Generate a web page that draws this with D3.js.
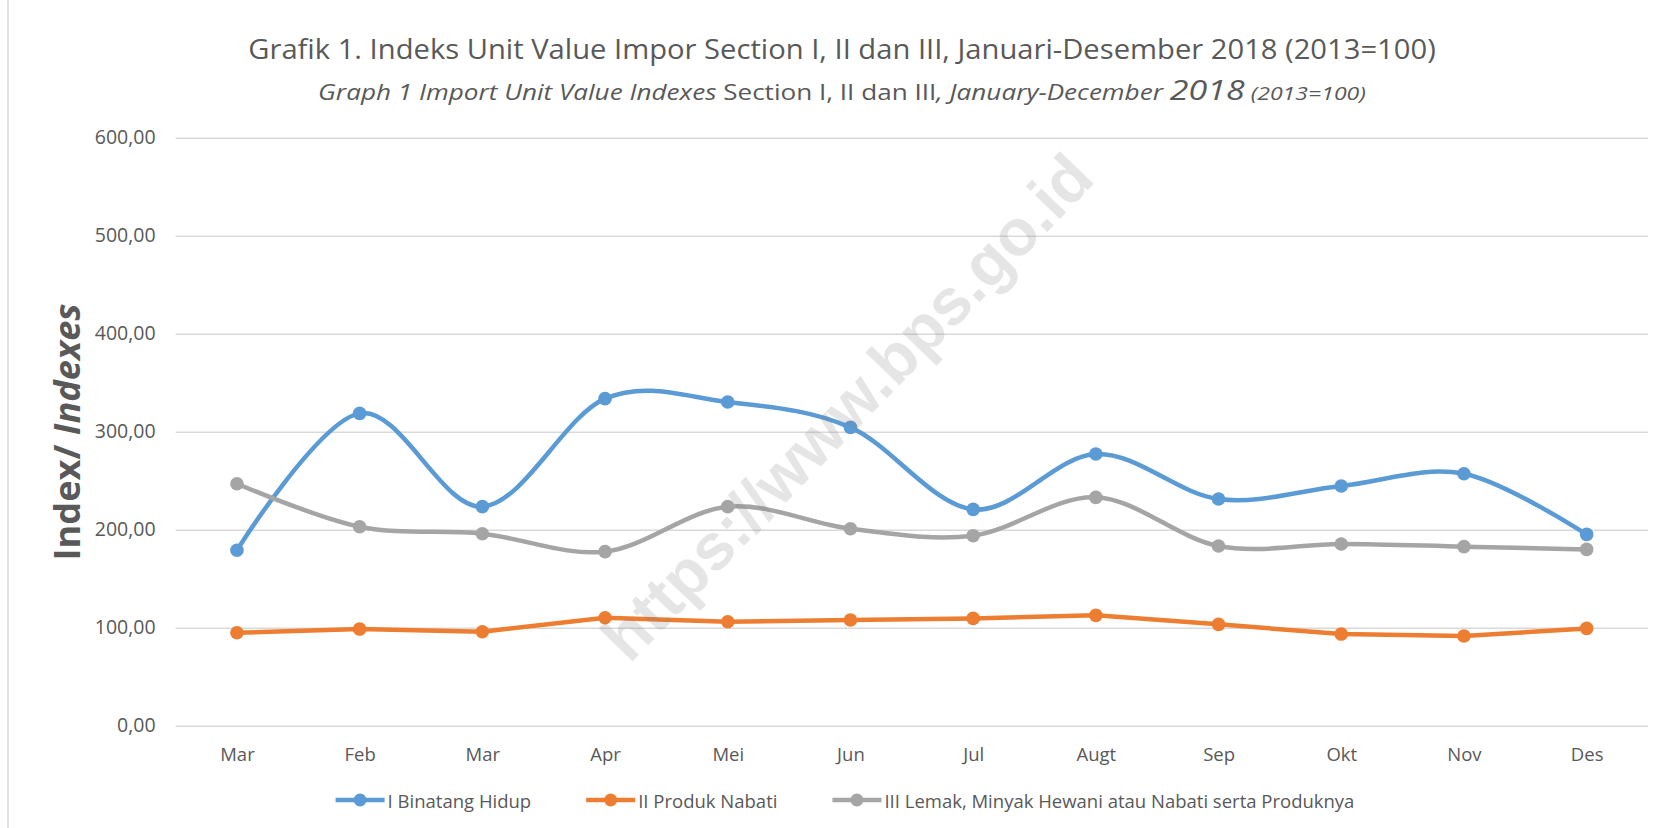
<!DOCTYPE html>
<html lang="id">
<head>
<meta charset="UTF-8">
<title>Grafik 1. Indeks Unit Value Impor Section I, II dan III</title>
<script src="https://d3js.org/d3.v7.min.js"></script>
<style>
  html, body { margin: 0; padding: 0; background: #fff; }
  svg { display: block; font-family: "Open Sans", "Noto Sans", sans-serif; }
</style>
</head>
<body>
<svg id="chart" width="1660" height="828"></svg>
<script>
// data
const months = ["Mar", "Feb", "Mar", "Apr", "Mei", "Jun", "Jul", "Augt", "Sep", "Okt", "Nov", "Des"];
const binatangHidup = [179.0, 318.7, 223.5, 333.7, 330.3, 304.4, 220.7, 277.2, 231.3, 244.6, 257.1, 195.2];
const produkNabati = [94.9, 98.6, 95.9, 110.2, 106.1, 107.8, 109.5, 112.6, 103.4, 93.5, 91.5, 99.3];
const lemakMinyak = [246.9, 203.0, 195.9, 177.6, 223.5, 201.0, 193.9, 233.0, 183.3, 185.4, 182.7, 179.9];
const yTicks = [0, 100, 200, 300, 400, 500, 600];

const series = [
  { name: "I Binatang Hidup", values: binatangHidup, color: "#5B9BD5", smooth: true },
  { name: "II Produk Nabati", values: produkNabati, color: "#ED7D31", smooth: false },
  { name: "III Lemak, Minyak Hewani atau Nabati serta Produknya", values: lemakMinyak, color: "#A5A5A5", smooth: true }
];

const W = 1660, H = 828;
const plot = { left: 175.6, right: 1648, top: 137.7, bottom: 725.7 };
const textColor = "#595959";

const svg = d3.select("#chart");
svg.append("rect").attr("width", W).attr("height", H).attr("fill", "#fff");
svg.append("line")
  .attr("x1", 8).attr("x2", 8).attr("y1", 0).attr("y2", H)
  .attr("stroke", "#d9d9d9").attr("stroke-width", 1.5);

const idx = d3.range(months.length);
const x = d3.scalePoint().domain(idx).range([plot.left, plot.right]).padding(0.5);
const y = d3.scaleLinear().domain([0, 600]).range([plot.bottom, plot.top]);

// squeeze a text element to a given width around cx
function fitWidth(sel, width, cx) {
  const w = sel.node().getComputedTextLength();
  const k = width / w;
  sel.attr("transform", `translate(${cx},0) scale(${k},1) translate(${-cx},0)`);
}

// titles
const t1 = svg.append("text")
  .attr("x", 842).attr("y", 59)
  .attr("text-anchor", "middle")
  .attr("fill", textColor)
  .attr("font-size", 27.5)
  .text("Grafik 1. Indeks Unit Value Impor Section I, II dan III, Januari-Desember 2018 (2013=100)");
fitWidth(t1, 1188, 842);

const t2 = svg.append("text")
  .attr("x", 842).attr("y", 100)
  .attr("text-anchor", "middle")
  .attr("fill", textColor)
  .attr("font-size", 21.5);
t2.append("tspan").attr("font-style", "italic").text("Graph 1 Import Unit Value Indexes ");
t2.append("tspan").text("Section I, II dan III");
t2.append("tspan").attr("font-style", "italic").text(", January-December ");
t2.append("tspan").attr("font-style", "italic").attr("font-size", 28).text("2018");
t2.append("tspan").attr("font-style", "italic").attr("font-size", 19).text(" (2013=100)");
fitWidth(t2, 1048, 842);

// gridlines + y labels
const yAxis = d3.axisLeft(y)
  .tickValues(yTicks)
  .tickSize(-(plot.right - plot.left))
  .tickPadding(20)
  .tickFormat(d => d3.format(".2f")(d).replace(".", ","));
const gy = svg.append("g")
  .attr("transform", `translate(${plot.left},0)`)
  .call(yAxis);
gy.select(".domain").remove();
gy.selectAll(".tick line").attr("stroke", "#d9d9d9").attr("stroke-width", 1.5);
gy.selectAll(".tick text")
  .attr("fill", textColor)
  .attr("font-size", 19.5)
  .attr("font-family", "Open Sans, sans-serif");

// x labels
const xAxis = d3.axisBottom(x).tickSize(0).tickPadding(0).tickFormat(i => months[i]);
const gx = svg.append("g")
  .attr("transform", `translate(0,${plot.bottom})`)
  .call(xAxis);
gx.select(".domain").remove();
gx.selectAll(".tick text")
  .attr("fill", textColor)
  .attr("font-size", 18.5)
  .attr("font-family", "Open Sans, sans-serif")
  .attr("dy", null)
  .attr("y", 28)
  .attr("dominant-baseline", "central");

// y axis title
const yTitle = svg.append("text")
  .attr("transform", "translate(66,432) rotate(-90)")
  .attr("text-anchor", "middle")
  .attr("dominant-baseline", "central")
  .attr("fill", textColor)
  .attr("font-size", 35)
  .attr("font-weight", "bold");
yTitle.append("tspan").text("Index/ ");
yTitle.append("tspan").attr("font-style", "italic").text("Indexes");
{
  const w = yTitle.node().getComputedTextLength();
  const k = 257 / w;
  yTitle.attr("transform", `translate(66,432) rotate(-90) scale(${k},1)`);
}

// lines + markers
series.forEach(s => {
  const line = d3.line()
    .x((d, i) => x(i))
    .y(d => y(d))
    .curve(s.smooth ? d3.curveCatmullRom.alpha(0) : d3.curveLinear);

  svg.append("path")
    .datum(s.values)
    .attr("fill", "none")
    .attr("stroke", s.color)
    .attr("stroke-width", 4.5)
    .attr("stroke-linejoin", "round")
    .attr("stroke-linecap", "round")
    .attr("d", line);

  svg.append("g").selectAll("circle")
    .data(s.values)
    .join("circle")
    .attr("cx", (d, i) => x(i))
    .attr("cy", d => y(d))
    .attr("r", 6.8)
    .attr("fill", s.color);
});

// legend
const legend = svg.append("g");
const items = series.map(s => {
  const g = legend.append("g");
  g.append("line")
    .attr("x1", 0).attr("x2", 49).attr("y1", 0).attr("y2", 0)
    .attr("stroke", s.color).attr("stroke-width", 4.5);
  g.append("circle").attr("cx", 24.5).attr("cy", 0).attr("r", 6.5).attr("fill", s.color);
  const t = g.append("text")
    .attr("x", 52).attr("y", 0)
    .attr("dominant-baseline", "central")
    .attr("fill", textColor)
    .attr("font-size", 18.5)
    .text(s.name);
  return { g, w: 52 + t.node().getComputedTextLength() };
});
const gap = 55;
const total = d3.sum(items, d => d.w) + gap * (items.length - 1);
let lx = 845 - total / 2;
items.forEach(it => {
  it.g.attr("transform", `translate(${lx},800)`);
  lx += it.w + gap;
});

// watermark
svg.append("text")
  .attr("transform", "translate(847,407) rotate(-46)")
  .attr("text-anchor", "middle")
  .attr("dominant-baseline", "central")
  .attr("font-family", "Liberation Sans, Arial, sans-serif")
  .attr("font-weight", "bold")
  .attr("font-size", 65)
  .attr("fill", "#7f7f7f")
  .attr("fill-opacity", 0.2)
  .text("https://www.bps.go.id");
</script>
</body>
</html>
